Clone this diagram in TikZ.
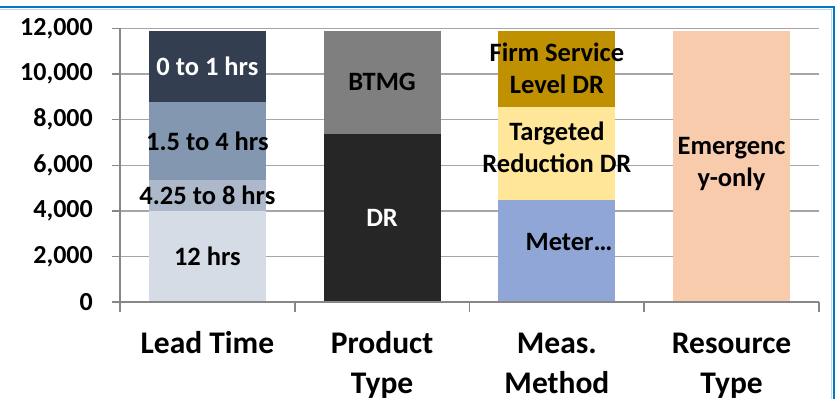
\documentclass[tikz,border=0pt]{standalone}
\usepackage{fontspec}
\setmainfont{Carlito}
\usepackage{tikz}
\usepackage{xcolor}

\definecolor{ltA}{HTML}{D6DCE5}
\definecolor{ltB}{HTML}{ADB9CA}
\definecolor{ltC}{HTML}{8497B0}
\definecolor{ltD}{HTML}{333F50}
\definecolor{ptDR}{HTML}{262626}
\definecolor{ptBTMG}{HTML}{7F7F7F}
\definecolor{mmMeter}{HTML}{8FA6D6}
\definecolor{mmTarget}{HTML}{FFE699}
\definecolor{mmFirm}{HTML}{BF9000}
\definecolor{rtEmerg}{HTML}{F8CBAD}
\definecolor{gridgray}{HTML}{A6A6A6}
\definecolor{axisgray}{HTML}{878787}
\definecolor{frameblue}{HTML}{0078C8}
\definecolor{framelight}{HTML}{BDD7EE}

\begin{document}
\begin{tikzpicture}[x=1pt, y=1pt,
      gridline/.style={draw=gridgray, line width=1.2pt},
      axisline/.style={draw=axisgray, line width=1.6pt},
      lab/.style={font=\fontsize{26.5}{32}\selectfont\bfseries, inner sep=0pt, align=center},
      ylab/.style={font=\fontsize{26}{31}\selectfont\bfseries, inner sep=0pt, anchor=east},
      cat/.style={font=\fontsize{31.5}{40}\selectfont\bfseries, inner sep=0pt, align=center, anchor=base},
    ]
    \useasboundingbox (0,0) rectangle (835,399);

    % Frame (top and right edge)
    \draw[line width=1pt, framelight] (0,389.5) -- (831.5,389.5) -- (831.5,0);
    \draw[line width=2.2pt, frameblue] (0,392) -- (833.7,392) -- (833.7,0);

    \begin{scope}[shift={(120,96.7)}, y=22.83pt]
      % Grid lines and value labels
      \foreach \v/\t in {0/0, 2/{2,000}, 4/{4,000}, 6/{6,000}, 8/{8,000}, 10/{10,000}, 12/{12,000}}{
          \draw[gridline] (0,\v) -- (699,\v);
          \draw[axisline] (-8.5,\v) -- (0,\v);
          \node[ylab] (y\v) at (-27,\v) {\t};
        }

      % Stacked bars (values in thousands)
      \foreach \x/\lo/\hi/\col in {
          87.4/0/4/ltA, 87.4/4/5.357/ltB, 87.4/5.357/8.773/ltC, 87.4/8.773/11.9/ltD,
          262.1/0/7.372/ptDR, 262.1/7.372/11.9/ptBTMG,
          436.9/0/4.481/mmMeter, 436.9/4.481/8.568/mmTarget, 436.9/8.568/11.9/mmFirm,
          611.6/0/11.9/rtEmerg}{
          \fill[\col] (\x-58.5,\lo) rectangle (\x+58.5,\hi);
        }

      % Axes
      \draw[axisline] (0,0) -- (699,0);
      \draw[axisline] (0,-0.44) -- (0,12);
      \foreach \x in {174.75, 349.5, 524.25, 699}
      \draw[axisline] (\x,0) -- (\x,-0.44);

      % Segment labels
      \node[lab] (lt12) at (87.4,2) {12 hrs};
      \node[lab] (lt8) at (87.4,4.68) {4.25 to 8 hrs};
      \node[lab] (lt4) at (87.4,7.06) {1.5 to 4 hrs};
      \node[lab, white] (lt1) at (87.4,10.34) {0 to 1 hrs};
      \node[lab, white] (pdr) at (262.1,3.69) {DR};
      \node[lab] (pbtmg) at (262.1,9.64) {BTMG};
      \node[lab] (mmeter) at (449,2.63) {Meter…};
      \node[lab] (mtarget) at (436.9,6.8) {Targeted\\Reduction DR};
      \node[lab] (mfirm) at (436.9,10.24) {Firm Service\\Level DR};
      \node[lab] (remerg) at (611.6,6.05) {Emergenc\\y-only};
    \end{scope}

    % Category labels
    \node[cat] (cLead) at (207.4,45.7) {Lead Time};
    \node[cat] (cProd) at (382.1,5.7) {Product\\Type};
    \node[cat] (cMeas) at (556.9,5.7) {Meas.\\Method};
    \node[cat] (cRes) at (731.6,5.7) {Resource\\Type};
  \end{tikzpicture}
\end{document}
